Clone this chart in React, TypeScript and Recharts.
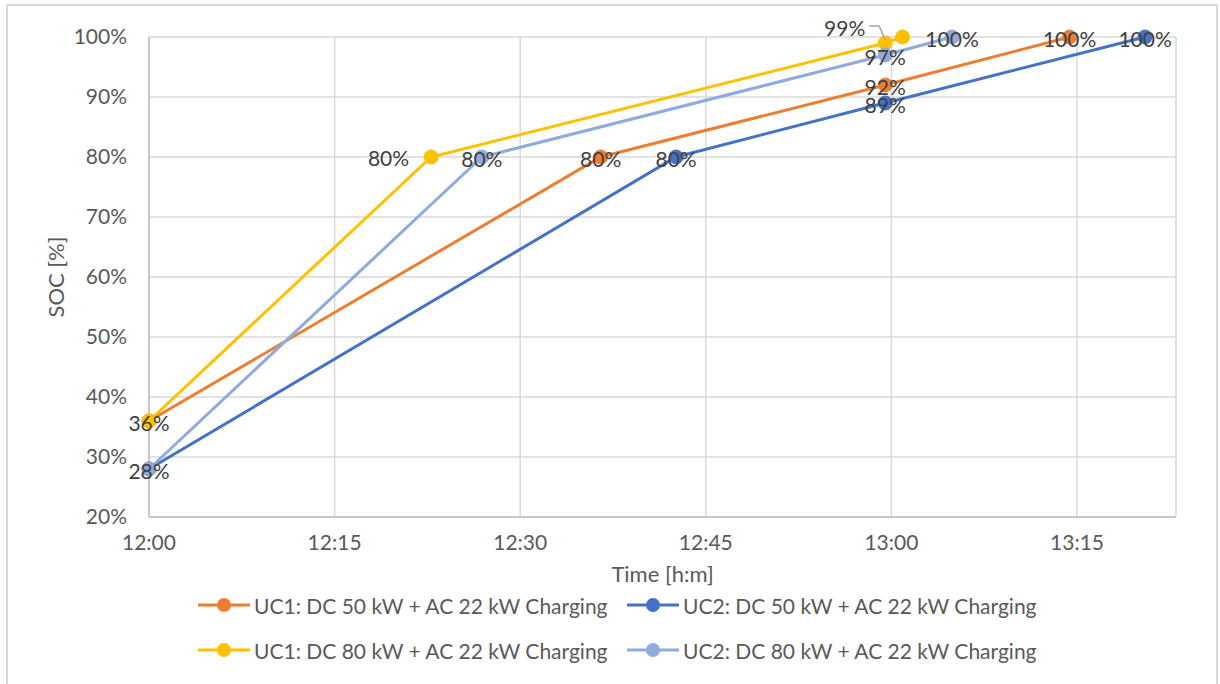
import React from "react";
import {
  LineChart, Line, XAxis, YAxis, CartesianGrid, Legend, LabelList,
} from "recharts";

// minutes after 12:00 and state of charge (%) per use case
const T_UC1_DC50 = [0, 36.5, 59.5, 74.4];
const SOC_UC1_DC50 = [36, 80, 92, 100];

const T_UC2_DC50 = [0, 42.6, 59.5, 80.5];
const SOC_UC2_DC50 = [28, 80, 89, 100];

const T_UC1_DC80 = [0, 22.8, 59.5, 60.9];
const SOC_UC1_DC80 = [36, 80, 99, 100];

const T_UC2_DC80 = [0, 26.9, 59.5, 64.9];
const SOC_UC2_DC80 = [28, 80, 97, 100];

const X_TICKS = [0, 15, 30, 45, 60, 75];
const Y_TICKS = [20, 30, 40, 50, 60, 70, 80, 90, 100];

const FONT = "Lato, 'Open Sans', sans-serif";

type Place = "c" | "l" | "leader" | null;

const SERIES = [
  { name: "UC1: DC 50 kW + AC 22 kW Charging", color: "#ED7D31", t: T_UC1_DC50, soc: SOC_UC1_DC50, labels: [null, "c", "c", "c"] as Place[] },
  { name: "UC2: DC 50 kW + AC 22 kW Charging", color: "#4472C4", t: T_UC2_DC50, soc: SOC_UC2_DC50, labels: [null, "c", "c", "c"] as Place[] },
  { name: "UC1: DC 80 kW + AC 22 kW Charging", color: "#FFC000", t: T_UC1_DC80, soc: SOC_UC1_DC80, labels: ["c", "l", "leader", null] as Place[] },
  { name: "UC2: DC 80 kW + AC 22 kW Charging", color: "#8FAADC", t: T_UC2_DC80, soc: SOC_UC2_DC80, labels: ["c", "c", "c", "c"] as Place[] },
];

const fmtTime = (m: number) => {
  const h = 12 + Math.floor(m / 60);
  const mm = m % 60;
  return `${h}:${String(mm).padStart(2, "0")}`;
};

function makeLabel(places: Place[]) {
  return (props: any) => {
    const { x, y, value, index } = props;
    const place = places[index];
    if (!place) return null;
    const text = `${value}%`;
    const style = { fontFamily: FONT, fontSize: 21, fill: "#404040" };
    if (place === "l") {
      return (
        <text x={x - 22} y={y} textAnchor="end" dominantBaseline="central" style={style}>
          {text}
        </text>
      );
    }
    if (place === "leader") {
      return (
        <g>
          <path
            d={`M${x - 16},${y - 17} L${x - 6},${y - 17} L${x},${y - 3}`}
            fill="none"
            stroke="#A6A6A6"
            strokeWidth={1.5}
          />
          <text x={x - 20} y={y - 16} textAnchor="end" dominantBaseline="central" style={style}>
            {text}
          </text>
        </g>
      );
    }
    return (
      <text x={x} y={y + 1} textAnchor="middle" dominantBaseline="central" style={style}>
        {text}
      </text>
    );
  };
}

function LegendBox() {
  const cols = [198, 627];
  const rows = [18, 63];
  return (
    <div style={{ position: "relative", width: 1220, height: 97, fontFamily: FONT, fontSize: 21, color: "#595959" }}>
      {SERIES.map((s, i) => (
        <div
          key={s.name}
          style={{
            position: "absolute",
            left: cols[i % 2],
            top: rows[Math.floor(i / 2)] - 14,
            height: 28,
            display: "flex",
            alignItems: "center",
            whiteSpace: "nowrap",
          }}
        >
          <svg width={56} height={28}>
            <line x1={0} y1={14} x2={52} y2={14} stroke={s.color} strokeWidth={3} />
            <circle cx={26} cy={14} r={7} fill={s.color} />
          </svg>
          <span>{s.name}</span>
        </div>
      ))}
    </div>
  );
}

export default function App() {
  return (
    <div style={{ position: "absolute", left: 0, top: 0, width: 1220, height: 684, background: "#fff" }}>
      <div
        style={{
          position: "absolute",
          left: 6,
          top: 4,
          width: 1212,
          height: 690,
          border: "2px solid #D9D9D9",
          boxSizing: "border-box",
        }}
      />
      <LineChart
        width={1220}
        height={684}
        margin={{ top: 37, right: 44, left: 0, bottom: 0 }}
        style={{ position: "absolute", left: 0, top: 0 }}
      >
        <CartesianGrid stroke="#D9D9D9" strokeWidth={1.5} />
        <XAxis
          type="number"
          dataKey="t"
          domain={[0, 83]}
          ticks={X_TICKS}
          tickFormatter={fmtTime}
          height={70}
          stroke="#BFBFBF"
          strokeWidth={1.5}
          tickLine={false}
          tickMargin={12}
          tick={{ fill: "#595959", fontSize: 21, fontFamily: FONT }}
          allowDuplicatedCategory={false}
          label={{ value: "Time [h:m]", position: "insideBottom", offset: 5, fill: "#595959", fontSize: 22, fontFamily: FONT }}
        />
        <YAxis
          type="number"
          domain={[20, 100]}
          ticks={Y_TICKS}
          tickFormatter={(v: number) => `${v}%`}
          width={149}
          stroke="#BFBFBF"
          strokeWidth={1.5}
          tickLine={false}
          tickMargin={16}
          tick={{ fill: "#595959", fontSize: 21, fontFamily: FONT }}
          label={{ value: "SOC [%]", angle: -90, position: "insideLeft", offset: 56, fill: "#595959", fontSize: 22, fontFamily: FONT, style: { textAnchor: "middle" } }}
        />
        <Legend verticalAlign="bottom" height={97} wrapperStyle={{ left: 0, width: 1220 }} content={() => <LegendBox />} />
        {SERIES.map((s) => (
          <Line
            key={s.name}
            name={s.name}
            data={s.t.map((t, i) => ({ t, soc: s.soc[i] }))}
            dataKey="soc"
            stroke={s.color}
            strokeWidth={3}
            dot={{ r: 7, fill: s.color, stroke: s.color, strokeWidth: 1 }}
            activeDot={false}
            isAnimationActive={false}
          >
            <LabelList dataKey="soc" content={makeLabel(s.labels)} />
          </Line>
        ))}
      </LineChart>
    </div>
  );
}
